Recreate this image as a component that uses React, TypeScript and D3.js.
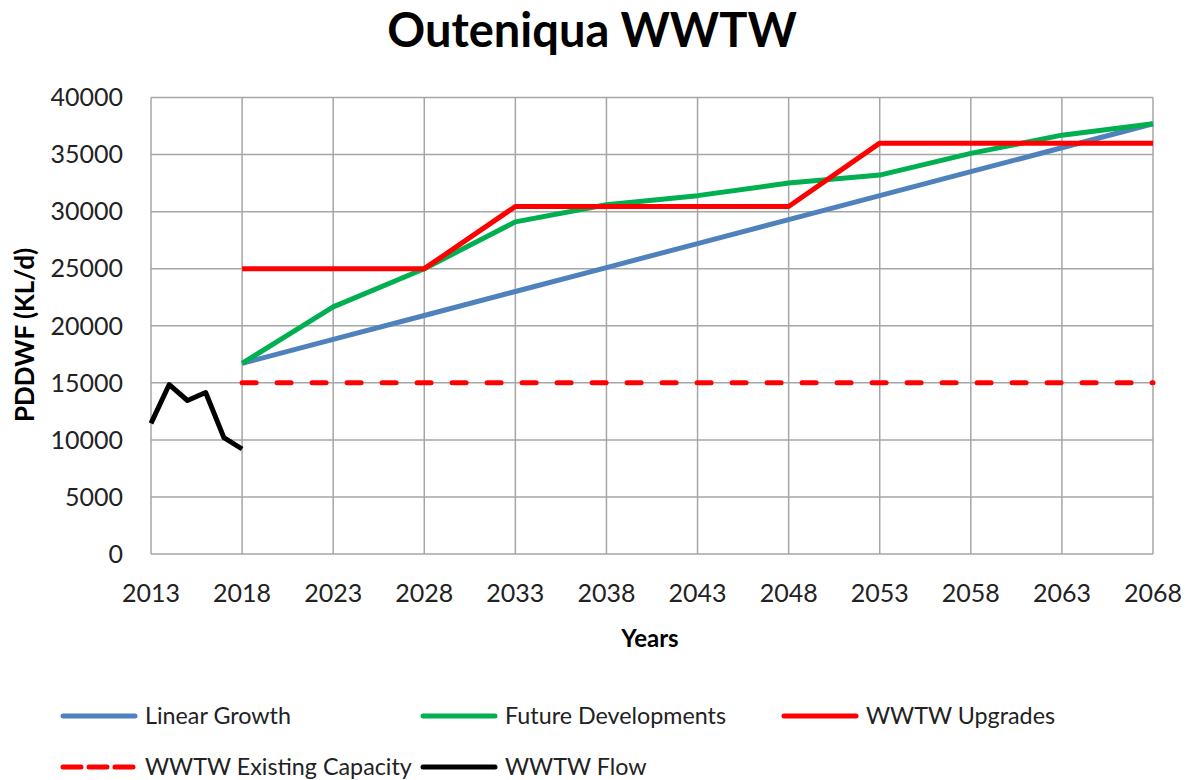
import React, { useEffect } from "react";
import * as d3 from "d3";

// Five-yearly projections (KL/d)
const projYears = [2018, 2023, 2028, 2033, 2038, 2043, 2048, 2053, 2058, 2063, 2068];
const linearGrowth = [16700, 18800, 20900, 23000, 25100, 27200, 29300, 31400, 33500, 35600, 37700];
const futureDevelopments = [16700, 21650, 25000, 29100, 30600, 31400, 32500, 33200, 35100, 36700, 37700];

// Plant upgrades (step-like)
const upgradeYears = [2018, 2028, 2033, 2048, 2053, 2068];
const upgradeValues = [25000, 25000, 30450, 30450, 36000, 36000];

const capacityYears = [2018, 2068];
const capacityValues = [15000, 15000];

// Measured flow
const flowYears = [2013, 2014, 2015, 2016, 2017, 2018];
const flowValues = [11450, 14850, 13450, 14150, 10200, 9200];

const xTicks = [2013, 2018, 2023, 2028, 2033, 2038, 2043, 2048, 2053, 2058, 2063, 2068];
const yTicks = [0, 5000, 10000, 15000, 20000, 25000, 30000, 35000, 40000];

const W = 1195;
const H = 780;
const font = "Lato, 'Open Sans', sans-serif";

type Pt = [number, number];
const zip = (xs: number[], ys: number[]): Pt[] => xs.map((x, i) => [x, ys[i]]);

const series = [
  { name: "Linear Growth", pts: zip(projYears, linearGrowth), color: "#4f81bd", dash: null },
  { name: "Future Developments", pts: zip(projYears, futureDevelopments), color: "#00b050", dash: null },
  { name: "WWTW Upgrades", pts: zip(upgradeYears, upgradeValues), color: "#ff0000", dash: null },
  { name: "WWTW Existing Capacity", pts: zip(capacityYears, capacityValues), color: "#ff0000", dash: "14 21" },
  { name: "WWTW Flow", pts: zip(flowYears, flowValues), color: "#000000", dash: null },
];

// legend slots: [lineX, rowY]
const legendPos: Pt[] = [
  [60, 716],
  [420, 716],
  [781, 716],
  [60, 767],
  [420, 767],
];

export default function App() {
  useEffect(() => {
    document.body.style.margin = "0";
  }, []);

  const x = d3.scaleLinear().domain([2013, 2068]).range([151, 1153]);
  const y = d3.scaleLinear().domain([0, 40000]).range([554, 97.5]);
  const line = d3
    .line<Pt>()
    .x((d) => x(d[0]))
    .y((d) => y(d[1]));

  // draw order: blue, green, dashed, black, red upgrades on top
  const order = [0, 1, 3, 4, 2];

  return (
    <svg width={W} height={H} style={{ display: "block", background: "white" }} fontFamily={font}>
      <text x={592} y={47} textAnchor="middle" fontSize={47} fontWeight={700} fill="#000">
        Outeniqua WWTW
      </text>

      {/* grid */}
      {yTicks.map((t) => (
        <line key={"gy" + t} x1={x(2013)} x2={x(2068)} y1={y(t)} y2={y(t)} stroke="#a6a6a6" strokeWidth={1.5} />
      ))}
      {xTicks.map((t) => (
        <line key={"gx" + t} x1={x(t)} x2={x(t)} y1={y(0)} y2={y(40000)} stroke="#a6a6a6" strokeWidth={1.5} />
      ))}

      {/* tick labels */}
      {yTicks.map((t) => (
        <text key={"ty" + t} x={123} y={y(t)} dy="0.35em" textAnchor="end" fontSize={25} fill="#222">
          {t}
        </text>
      ))}
      {xTicks.map((t) => (
        <text key={"tx" + t} x={x(t)} y={602} textAnchor="middle" fontSize={25} fill="#222">
          {t}
        </text>
      ))}

      <text x={650} y={647} textAnchor="middle" fontSize={24} fontWeight={700} fill="#000">
        Years
      </text>
      <text
        transform={`translate(34,335) rotate(-90)`}
        textAnchor="middle"
        fontSize={26}
        fontWeight={700}
        fill="#000"
      >
        PDDWF (KL/d)
      </text>

      {/* series */}
      {order.map((i) => {
        const s = series[i];
        return (
          <path
            key={s.name}
            d={line(s.pts) || ""}
            fill="none"
            stroke={s.color}
            strokeWidth={5}
            strokeLinejoin="round"
            strokeLinecap={s.dash ? "round" : "butt"}
            strokeDasharray={s.dash || undefined}
          />
        );
      })}

      {/* legend */}
      {series.map((s, i) => {
        const [lx, ly] = legendPos[i];
        return (
          <g key={"lg" + s.name}>
            <line
              x1={lx + 3}
              x2={lx + 75}
              y1={ly}
              y2={ly}
              stroke={s.color}
              strokeWidth={5}
              strokeLinecap="round"
              strokeDasharray={s.dash ? "18 8" : undefined}
            />
            <text x={lx + 85} y={ly} dy="0.35em" fontSize={23.3} fill="#222">
              {s.name}
            </text>
          </g>
        );
      })}
    </svg>
  );
}
